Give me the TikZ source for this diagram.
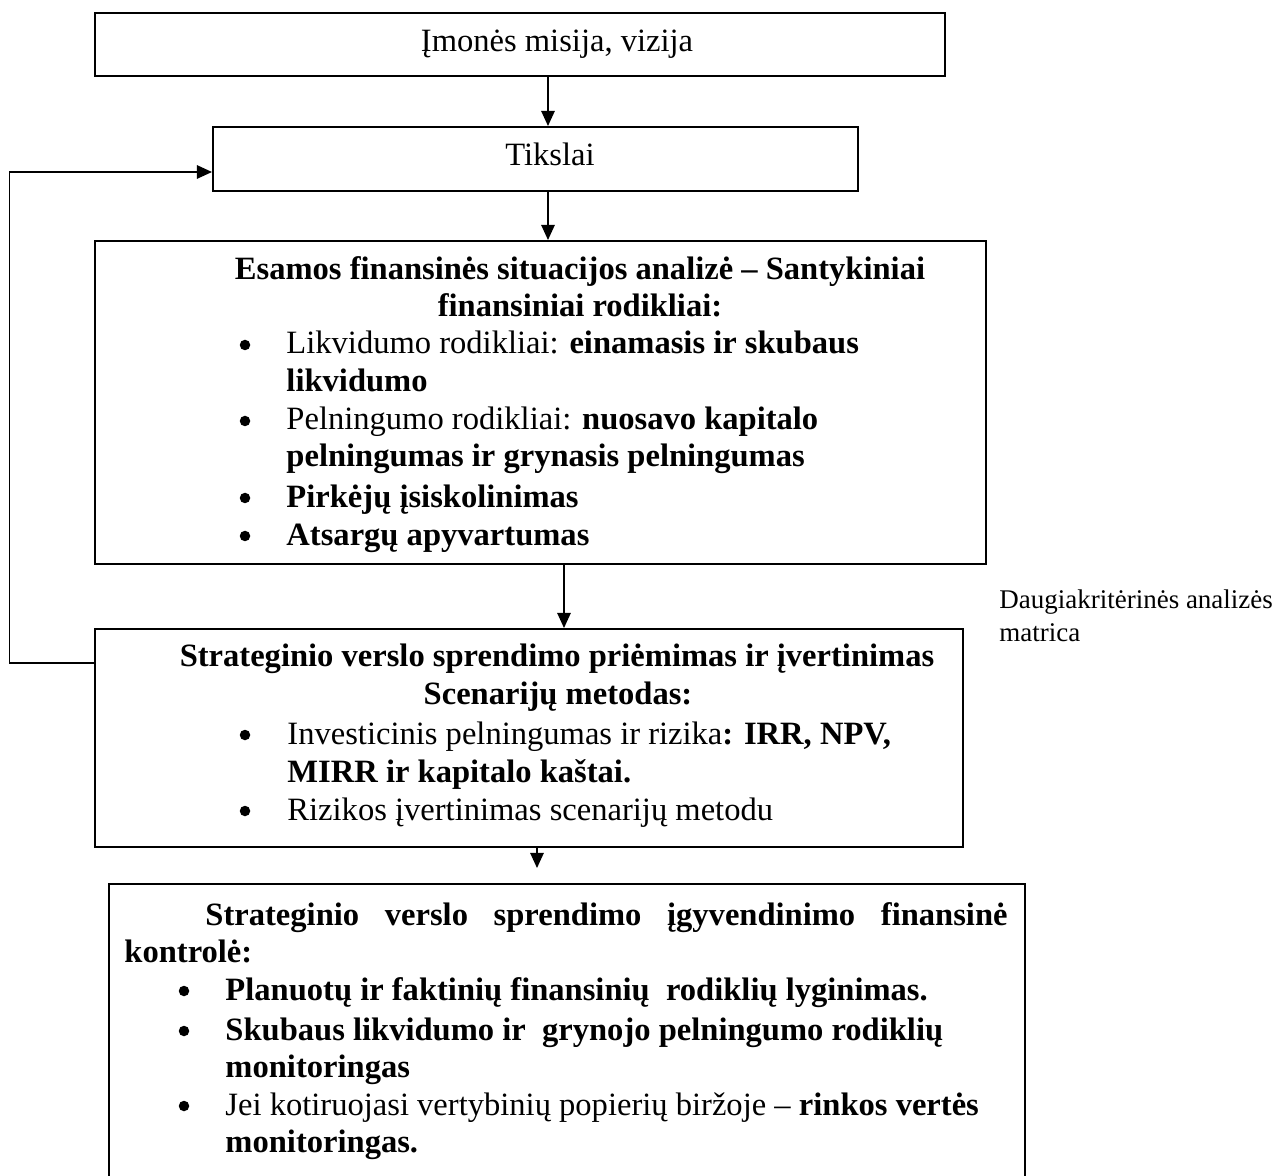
\documentclass[tikz,border=0pt]{standalone}
\usepackage{fontspec}
\setmainfont{Liberation Serif}
\usetikzlibrary{arrows.meta}
\newcommand{\pxu}{0.43pt}

\begin{document}
\begin{tikzpicture}[x=0.43pt, y=-0.43pt,
    box/.style={draw, line width=0.9pt, inner sep=0pt, anchor=north west},
    line/.style={anchor=base west, inner sep=0pt, font=\fontsize{14}{16}\selectfont},
    title/.style={anchor=base, inner sep=0pt, font=\fontsize{14}{16}\selectfont\bfseries},
    dot/.style={circle, fill, inner sep=0pt, minimum size=10.5*\pxu},
    arr/.style={-{Triangle[length=6.5pt,width=5.8pt]}, line width=0.6pt}]

    % Page frame
    \useasboundingbox (0,0) rectangle (1278,1176);
    \clip (0,0) rectangle (1278,1176);

    % Boxes
    \node[box, minimum width=850*\pxu, minimum height=63*\pxu] (misija) at (94,12) {};
    \node[box, minimum width=645*\pxu, minimum height=64*\pxu] (tikslai) at (212,126) {};
    \node[box, minimum width=891*\pxu, minimum height=323*\pxu] (analize) at (94,240) {};
    \node[box, minimum width=868*\pxu, minimum height=218*\pxu] (sprendimas) at (94,628) {};
    \node[box, minimum width=916*\pxu, minimum height=330*\pxu] (kontrole) at (108,883) {};

    % Coordinates for the connectors
    \coordinate (a1) at (548,0);
    \coordinate (a3) at (564,0);
    \coordinate (a4end) at (537,868);
    \coordinate (fb1) at (9.5,663);
    \coordinate (fb2) at (9.5,172);

    % Top boxes
    \node[line, anchor=base] (misijatxt) at (557,52) {Įmonės misija, vizija};
    \node[line, anchor=base] (tikslaitxt) at (550,166) {Tikslai};

    % Current financial situation
    \node[title] (analize1) at (580,280) {Esamos finansinės situacijos analizė – Santykiniai};
    \node[title] (analize2) at (580,317) {finansiniai rodikliai:};
    \node[dot] (ad1) at (245,345) {};
    \node[line] (likv1) at (286,354) {Likvidumo rodikliai: \textbf{einamasis ir skubaus}};
    \node[line] (likv2) at (286,392) {\textbf{likvidumo}};
    \node[dot] (ad2) at (245,421) {};
    \node[line] (peln1) at (286,430) {Pelningumo rodikliai: \textbf{nuosavo kapitalo}};
    \node[line] (peln2) at (286,467) {\textbf{pelningumas ir grynasis pelningumas}};
    \node[dot] (ad3) at (245,498) {};
    \node[line] (pirk) at (286,507) {\textbf{Pirkėjų įsiskolinimas}};
    \node[dot] (ad4) at (245,536) {};
    \node[line] (atsar) at (286,545) {\textbf{Atsargų apyvartumas}};

    % Strategic decision
    \node[title] (sprend1) at (557,666) {Strateginio verslo sprendimo priėmimas ir įvertinimas};
    \node[title] (sprend2) at (558,704) {Scenarijų metodas:};
    \node[dot] (sd1) at (245,735) {};
    \node[line] (invest1) at (287,744) {Investicinis pelningumas ir rizika\textbf{: IRR, NPV,}};
    \node[line] (invest2) at (287,782) {\textbf{MIRR ir kapitalo kaštai.}};
    \node[dot] (sd2) at (245,811) {};
    \node[line] (rizik) at (287,820) {Rizikos įvertinimas scenarijų metodu};

    % Side label
    \node[line, font=\fontsize{11.6}{14}\selectfont] (matrica1) at (999,608) {Daugiakritėrinės analizės};
    \node[line, font=\fontsize{11.6}{14}\selectfont] (matrica2) at (999,642) {matrica};

    % Financial control
    \node[line] (kontr1) at (205,925) {\makebox[344.9pt][s]{\bfseries Strateginio verslo sprendimo įgyvendinimo finansinė}};
    \node[line] (kontr2) at (124,962) {\textbf{kontrolė:}};
    \node[dot] (kd1) at (184,991) {};
    \node[line] (plan) at (225,1000) {\textbf{Planuotų ir faktinių finansinių \ rodiklių lyginimas.}};
    \node[dot] (kd2) at (184,1031) {};
    \node[line] (skub1) at (225,1040) {\textbf{Skubaus likvidumo ir \ grynojo pelningumo rodiklių}};
    \node[line] (skub2) at (225,1077) {\textbf{monitoringas}};
    \node[dot] (kd3) at (184,1106) {};
    \node[line] (birz1) at (225,1115) {Jei kotiruojasi vertybinių popierių biržoje – \textbf{rinkos vertės}};
    \node[line] (birz2) at (225,1152) {\textbf{monitoringas.}};

    % Arrows between the boxes
    \draw[arr] (misija.south -| a1) -- (tikslai.north -| a1);
    \draw[arr] (tikslai.south -| a1) -- (analize.north -| a1);
    \draw[arr] (analize.south -| a3) -- (sprendimas.north -| a3);
    \draw[arr] (sprendimas.south -| a4end) -- (a4end);

    % Feedback to the goals
    \draw[arr] (sprendimas.north west |- fb1) -- (fb1) -- (fb2) -- (tikslai.west |- fb2);

\end{tikzpicture}
\end{document}
